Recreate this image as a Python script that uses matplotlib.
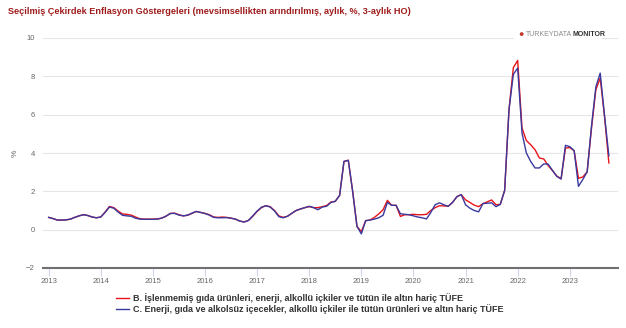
#!/usr/bin/env python

import matplotlib
matplotlib.use('Agg')
import matplotlib.pyplot as plt
import numpy as np

plt.rcParams['font.family'] = ['Liberation Sans', 'DejaVu Sans']

title = 'Seçilmiş Çekirdek Enflasyon Göstergeleri (mevsimsellikten arındırılmış, aylık, %, 3-aylık HO)'
label_b = 'B. İşlenmemiş gıda ürünleri, enerji, alkollü içkiler ve tütün ile altın hariç TÜFE'
label_c = 'C. Enerji, gıda ve alkolsüz içecekler, alkollü içkiler ile tütün ürünleri ve altın hariç TÜFE'

start_year = 2013
years = [2013, 2014, 2015, 2016, 2017, 2018, 2019, 2020, 2021, 2022, 2023]
yticks = [-2, 0, 2, 4, 6, 8, 10]

# monthly values, Jan 2013 .. Nov 2023
series_b = [
    # 2013
    0.64, 0.58, 0.50, 0.50, 0.51, 0.55, 0.64, 0.72, 0.78, 0.74, 0.66, 0.62,
    # 2014
    0.66, 0.92, 1.21, 1.15, 0.97, 0.82, 0.80, 0.76, 0.66, 0.57, 0.55, 0.55,
    # 2015
    0.55, 0.56, 0.60, 0.70, 0.85, 0.86, 0.78, 0.72, 0.75, 0.85, 0.95, 0.90,
    # 2016
    0.85, 0.78, 0.66, 0.64, 0.66, 0.64, 0.60, 0.55, 0.45, 0.40, 0.48, 0.70,
    # 2017
    0.95, 1.15, 1.25, 1.20, 1.00, 0.72, 0.64, 0.70, 0.85, 1.00, 1.08, 1.15,
    # 2018
    1.20, 1.15, 1.15, 1.20, 1.26, 1.44, 1.48, 1.79, 3.56, 3.62, 2.00, 0.17,
    # 2019
    -0.10, 0.47, 0.50, 0.64, 0.82, 1.04, 1.53, 1.27, 1.27, 0.69, 0.78, 0.78,
    # 2020
    0.80, 0.78, 0.78, 0.80, 1.00, 1.15, 1.25, 1.24, 1.22, 1.42, 1.72, 1.83,
    # 2021
    1.56, 1.42, 1.28, 1.20, 1.36, 1.45, 1.55, 1.30, 1.32, 2.05, 6.26, 8.45,
    # 2022
    8.83, 5.30, 4.65, 4.43, 4.17, 3.74, 3.69, 3.35, 3.08, 2.80, 2.66, 4.26,
    # 2023
    4.28, 4.12, 2.68, 2.75, 3.02, 5.30, 7.30, 7.91, 5.90, 3.48,
]

series_c = [
    # 2013
    0.64, 0.58, 0.50, 0.50, 0.51, 0.55, 0.64, 0.72, 0.78, 0.74, 0.66, 0.62,
    # 2014
    0.66, 0.90, 1.18, 1.12, 0.92, 0.75, 0.72, 0.70, 0.60, 0.55, 0.54, 0.54,
    # 2015
    0.54, 0.55, 0.60, 0.70, 0.84, 0.85, 0.76, 0.72, 0.76, 0.86, 0.95, 0.90,
    # 2016
    0.84, 0.76, 0.64, 0.62, 0.62, 0.63, 0.60, 0.55, 0.45, 0.40, 0.48, 0.72,
    # 2017
    0.97, 1.17, 1.25, 1.18, 0.98, 0.68, 0.62, 0.70, 0.86, 1.00, 1.08, 1.15,
    # 2018
    1.22, 1.15, 1.04, 1.18, 1.22, 1.42, 1.48, 1.79, 3.56, 3.62, 2.00, 0.17,
    # 2019
    -0.22, 0.47, 0.50, 0.55, 0.62, 0.75, 1.42, 1.27, 1.27, 0.83, 0.80, 0.78,
    # 2020
    0.72, 0.66, 0.62, 0.56, 0.90, 1.30, 1.40, 1.30, 1.22, 1.42, 1.72, 1.83,
    # 2021
    1.30, 1.12, 1.00, 0.93, 1.36, 1.38, 1.40, 1.20, 1.32, 2.05, 6.26, 8.10,
    # 2022
    8.43, 5.04, 4.00, 3.56, 3.22, 3.22, 3.43, 3.42, 3.10, 2.78, 2.64, 4.40,
    # 2023
    4.33, 4.12, 2.26, 2.62, 3.02, 5.40, 7.45, 8.17, 5.95, 3.85,
]


def main():
    months = np.arange(len(series_b))
    x = start_year + months / 12.0

    fig = plt.figure(figsize=(6.26, 3.28), dpi=100)
    ax = fig.add_axes([43 / 626, 1 - 268 / 328, 575 / 626, 230 / 328])

    ax.plot(x, series_b, color='#e8141b', linewidth=1.0, label=label_b, zorder=3)
    ax.plot(x, series_c, color='#3a3a9e', linewidth=1.0, label=label_c, zorder=4)

    ax.set_xlim(start_year - 1.3 / 12, start_year + 131.1 / 12)
    ax.set_ylim(-2, 10)
    ax.set_yticks(yticks)
    ax.set_yticklabels([str(v) if v >= 0 else '\u2212' + str(-v) for v in yticks])
    ax.set_xticks(years)
    ax.set_xticklabels([str(y) for y in years])

    ax.grid(axis='y', color='#e6e6e6', linewidth=0.8)
    ax.set_axisbelow(True)
    for side in ['top', 'right', 'left']:
        ax.spines[side].set_visible(False)
    ax.spines['bottom'].set_color('#707070')
    ax.spines['bottom'].set_linewidth(1.5)

    ax.tick_params(axis='y', length=0, pad=6, labelsize=5.5, labelcolor='#666666')
    ax.tick_params(axis='x', length=6, width=0.8, color='#ccd6eb', pad=1,
                   labelsize=5.5, labelcolor='#666666')
    ax.set_ylabel('%', fontsize=6, color='#666666', labelpad=5)

    fig.text(8 / 626, 1 - 12 / 328, title, fontsize=6.6, fontweight='bold',
             color='#9e1b1b', va='center', ha='left')

    # logo: white patch over the gridline, then globe + two-weight text
    logo_y = 1 - 35 / 328
    fig.patches.append(plt.Rectangle((514 / 626, logo_y - 5 / 328), 88 / 626, 10 / 328,
                                     transform=fig.transFigure, facecolor='white',
                                     edgecolor='none', zorder=5))
    fig.text(521 / 626, logo_y, '\u25cf', fontsize=6.5, color='#c0392b',
             va='center', ha='center', zorder=6)
    t1 = fig.text(526 / 626, logo_y, 'TURKEYDATA', fontsize=5, color='#8a8a8a',
                  va='center', ha='left', zorder=6)
    fig.canvas.draw()
    bb = t1.get_window_extent()
    fig.text(bb.x1 / 626 + 0.5 / 626, logo_y, 'MONITOR', fontsize=5, color='#333333',
             fontweight='bold', va='center', ha='left', zorder=6)

    fig.legend(loc='upper left', bbox_to_anchor=(116 / 626, 1 - 293 / 328),
               frameon=False, handlelength=1.4, handletextpad=0.5,
               labelspacing=0.15, borderaxespad=0, borderpad=0,
               prop={'weight': 'bold', 'size': 6.5})
    for t in fig.legends[0].get_texts():
        t.set_color('#333333')

    fig.savefig('out.png', dpi=100)


if __name__ == '__main__':
    main()
